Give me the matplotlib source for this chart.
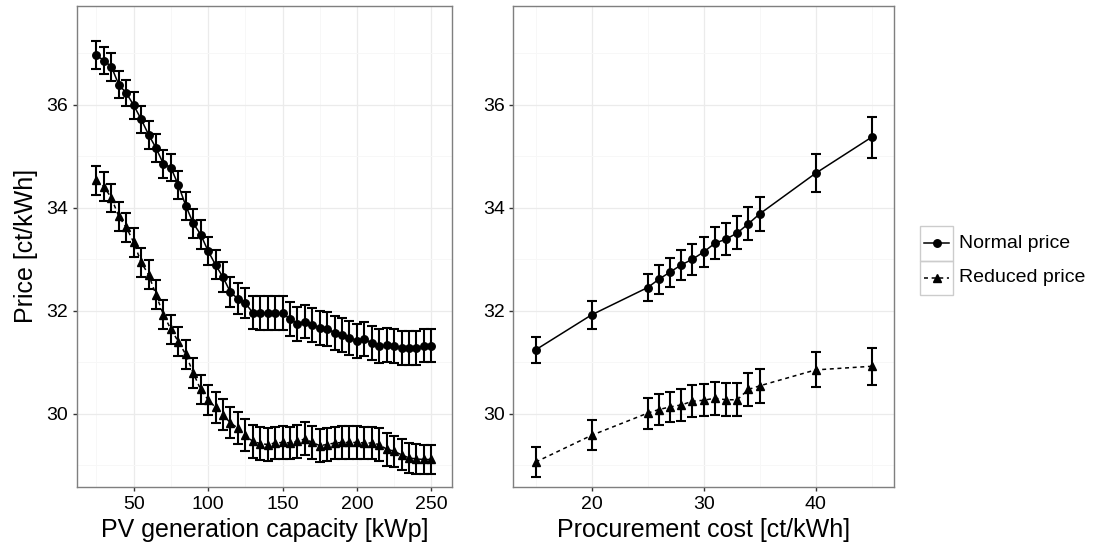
#!/usr/bin/env python3
"""Price vs PV capacity and vs procurement cost (two panels, shared legend)."""
import matplotlib

matplotlib.use("Agg")
import matplotlib.pyplot as plt
from matplotlib.lines import Line2D
from matplotlib.patches import Rectangle
from matplotlib.ticker import MultipleLocator

plt.rcParams["font.family"] = ["Liberation Sans", "DejaVu Sans"]

# left panel: PV generation capacity
pv_capacity = list(range(25, 255, 5))
pv_normal = [36.96, 36.86, 36.74, 36.39, 36.23, 35.99, 35.72, 35.42, 35.16, 34.85,
             34.78, 34.44, 34.04, 33.70, 33.48, 33.16, 32.89, 32.65, 32.36, 32.23,
             32.15, 31.96, 31.95, 31.95, 31.95, 31.95, 31.84, 31.75, 31.79, 31.73,
             31.66, 31.65, 31.57, 31.53, 31.47, 31.42, 31.45, 31.37, 31.31, 31.33,
             31.32, 31.27, 31.27, 31.27, 31.32, 31.32]
pv_normal_err = [0.27, 0.27, 0.27, 0.26, 0.26, 0.26, 0.26, 0.27, 0.27, 0.27,
                 0.27, 0.27, 0.27, 0.28, 0.28, 0.28, 0.28, 0.29, 0.29, 0.30,
                 0.30, 0.32, 0.33, 0.33, 0.33, 0.33, 0.33, 0.33, 0.33, 0.33,
                 0.33, 0.33, 0.33, 0.33, 0.33, 0.33, 0.33, 0.33, 0.33, 0.33,
                 0.33, 0.33, 0.33, 0.33, 0.32, 0.32]
pv_reduced = [34.53, 34.41, 34.19, 33.83, 33.62, 33.33, 32.94, 32.70, 32.31, 31.92,
              31.64, 31.40, 31.15, 30.79, 30.47, 30.27, 30.12, 29.98, 29.82, 29.72,
              29.59, 29.46, 29.42, 29.40, 29.43, 29.44, 29.43, 29.46, 29.51, 29.44,
              29.38, 29.40, 29.43, 29.44, 29.44, 29.44, 29.43, 29.43, 29.40, 29.31,
              29.27, 29.20, 29.14, 29.12, 29.11, 29.11]
pv_reduced_err = [0.28, 0.28, 0.28, 0.28, 0.28, 0.28, 0.28, 0.28, 0.28, 0.28,
                  0.28, 0.28, 0.29, 0.29, 0.29, 0.29, 0.30, 0.30, 0.30, 0.31,
                  0.31, 0.32, 0.32, 0.32, 0.32, 0.32, 0.32, 0.32, 0.32, 0.32,
                  0.32, 0.32, 0.32, 0.32, 0.32, 0.32, 0.32, 0.32, 0.32, 0.32,
                  0.30, 0.30, 0.29, 0.29, 0.29, 0.29]

# right panel: procurement cost
cost = [15, 20, 25, 26, 27, 28, 29, 30, 31, 32, 33, 34, 35, 40, 45]
cost_normal = [31.24, 31.92, 32.45, 32.61, 32.75, 32.89, 33.00, 33.14, 33.31, 33.39,
               33.51, 33.69, 33.88, 34.67, 35.37]
cost_normal_err = [0.25, 0.27, 0.27, 0.28, 0.28, 0.29, 0.30, 0.30, 0.31, 0.31,
                   0.32, 0.32, 0.33, 0.37, 0.40]
cost_reduced = [29.06, 29.58, 30.01, 30.08, 30.13, 30.17, 30.24, 30.26, 30.30, 30.27,
                30.27, 30.47, 30.54, 30.85, 30.92]
cost_reduced_err = [0.29, 0.29, 0.30, 0.30, 0.30, 0.31, 0.31, 0.31, 0.32, 0.32,
                    0.32, 0.32, 0.33, 0.34, 0.36]

series_labels = ["Normal price", "Reduced price"]

W, H = 1094, 557
fig = plt.figure(figsize=(W / 100, H / 100), dpi=100)


def px_axes(x0, y0, x1, y1):
    return fig.add_axes([x0 / W, 1 - y1 / H, (x1 - x0) / W, (y1 - y0) / H])


ax_l = px_axes(76.7, 5.7, 452.0, 487.0)
ax_r = px_axes(513.3, 5.7, 894.0, 487.0)

DASH = (0, (2.6, 2.4))


def draw(ax, x, yn, en, yr, er):
    common = dict(color="black", lw=1.1, capsize=3.3, elinewidth=1.5, capthick=1.5, zorder=3)
    ax.errorbar(x, yn, yerr=en, marker="o", ms=5.4, ls="-", **common)
    ax.errorbar(x, yr, yerr=er, marker="^", ms=6.4, ls=DASH, **common)


draw(ax_l, pv_capacity, pv_normal, pv_normal_err, pv_reduced, pv_reduced_err)
draw(ax_r, cost, cost_normal, cost_normal_err, cost_reduced, cost_reduced_err)

ax_l.set_xlim(11.7, 263.9)
ax_l.xaxis.set_major_locator(MultipleLocator(50))
ax_l.xaxis.set_minor_locator(MultipleLocator(25))
ax_r.set_xlim(13.0, 47.0)
ax_r.set_xticks([20, 30, 40])
ax_r.set_xticks([15, 25, 35, 45], minor=True)

for ax in (ax_l, ax_r):
    ax.set_ylim(28.575, 37.925)
    ax.set_yticks([30, 32, 34, 36])
    ax.set_yticks([29, 31, 33, 35, 37], minor=True)
    ax.grid(True, which="major", color="#ebebeb", lw=0.9, zorder=0)
    ax.grid(True, which="minor", color="#f7f7f7", lw=0.7, zorder=0)
    ax.set_axisbelow(True)
    for s in ax.spines.values():
        s.set_color("#7f7f7f")
        s.set_linewidth(1.0)
    ax.tick_params(which="major", length=3.2, width=1.0, color="#333333",
                   labelsize=14, labelcolor="black", pad=3)
    ax.tick_params(which="minor", length=0)

ax_l.set_xlabel("PV generation capacity [kWp]", fontsize=18, labelpad=4)
ax_r.set_xlabel("Procurement cost [ct/kWh]", fontsize=18, labelpad=4)
ax_l.set_ylabel("Price [ct/kWh]", fontsize=18, labelpad=6)

# legend drawn ggplot-style with boxed keys
ax_g = px_axes(920.0, 226.0, 953.3, 295.0)
ax_g.set_xlim(0, 1)
ax_g.set_ylim(0, 2)
ax_g.axis("off")
for row, (lab, mk, ms, ls) in enumerate(zip(series_labels, ["o", "^"], [5.4, 6.4], ["-", DASH])):
    yc = 1.5 - row
    ax_g.add_patch(Rectangle((0, yc - 0.5), 1, 1, fill=False, ec="#cccccc", lw=1.0, clip_on=False))
    ax_g.add_line(Line2D([0.12, 0.88], [yc, yc], color="black", lw=1.1, ls=ls))
    ax_g.plot([0.5], [yc], marker=mk, ms=ms, color="black")
    ax_g.text(1.18, yc, lab, fontsize=14, va="center", ha="left", color="black", clip_on=False)

fig.savefig("out.png", dpi=100)
